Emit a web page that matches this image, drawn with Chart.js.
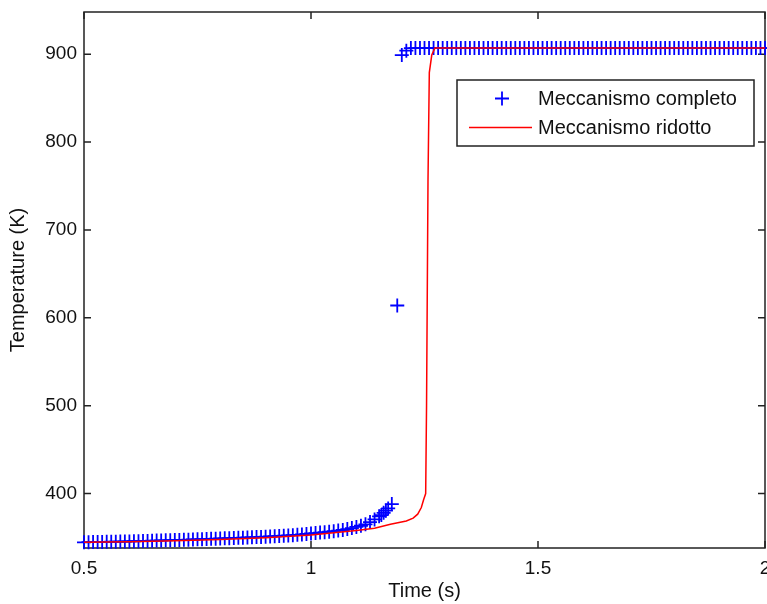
<!DOCTYPE html>
<html>
<head>
<meta charset="utf-8">
<script src="https://cdn.jsdelivr.net/npm/chart.js@4.4.0/dist/chart.umd.min.js"></script>
<style>
  html, body { margin: 0; padding: 0; background: #fff; }
</style>
</head>
<body>
<canvas id="grafico" width="767" height="604"></canvas>
<script>
// Meccanismo completo: tempi (s) e temperature (K)
const tiempoCompleto = [
  0.50, 0.51, 0.52, 0.53, 0.54, 0.55, 0.56, 0.57, 0.58, 0.59,
  0.60, 0.61, 0.62, 0.63, 0.64, 0.65, 0.66, 0.67, 0.68, 0.69,
  0.70, 0.71, 0.72, 0.73, 0.74, 0.75, 0.76, 0.77, 0.78, 0.79,
  0.80, 0.81, 0.82, 0.83, 0.84, 0.85, 0.86, 0.87, 0.88, 0.89,
  0.90, 0.91, 0.92, 0.93, 0.94, 0.95, 0.96, 0.97, 0.98, 0.99,
  1.00, 1.01, 1.02, 1.03, 1.04, 1.05, 1.06, 1.07, 1.08, 1.09, 1.10,
  1.11, 1.12, 1.13, 1.14, 1.15, 1.155, 1.16, 1.165, 1.17, 1.178,
  1.19, 1.20, 1.21,
  1.22, 1.23, 1.24, 1.25, 1.26, 1.27, 1.28, 1.29,
  1.30, 1.31, 1.32, 1.33, 1.34, 1.35, 1.36, 1.37, 1.38, 1.39,
  1.40, 1.41, 1.42, 1.43, 1.44, 1.45, 1.46, 1.47, 1.48, 1.49,
  1.50, 1.51, 1.52, 1.53, 1.54, 1.55, 1.56, 1.57, 1.58, 1.59,
  1.60, 1.61, 1.62, 1.63, 1.64, 1.65, 1.66, 1.67, 1.68, 1.69,
  1.70, 1.71, 1.72, 1.73, 1.74, 1.75, 1.76, 1.77, 1.78, 1.79,
  1.80, 1.81, 1.82, 1.83, 1.84, 1.85, 1.86, 1.87, 1.88, 1.89,
  1.90, 1.91, 1.92, 1.93, 1.94, 1.95, 1.96, 1.97, 1.98, 1.99, 2.00
];
const tempCompleto = [
  344.5, 344.6, 344.7, 344.8, 344.9, 345.0, 345.1, 345.2, 345.3, 345.4,
  345.5, 345.7, 345.8, 346.0, 346.1, 346.3, 346.4, 346.6, 346.7, 346.9,
  347.0, 347.2, 347.3, 347.5, 347.7, 347.9, 348.0, 348.2, 348.4, 348.6,
  348.8, 349.0, 349.2, 349.4, 349.6, 349.8, 350.0, 350.2, 350.4, 350.6,
  350.8, 351.1, 351.4, 351.7, 352.0, 352.3, 352.6, 353.0, 353.5, 354.0,
  354.5, 355.0, 355.5, 356.0, 356.6, 357.2, 357.8, 358.5, 359.5, 360.7, 362.0,
  363.3, 365.0, 367.5, 370.5, 374.0, 375.5, 378.0, 380.5, 383.0, 388.0,
  614, 899, 904,
  907, 907, 907, 907, 907, 907, 907, 907,
  907, 907, 907, 907, 907, 907, 907, 907, 907, 907,
  907, 907, 907, 907, 907, 907, 907, 907, 907, 907,
  907, 907, 907, 907, 907, 907, 907, 907, 907, 907,
  907, 907, 907, 907, 907, 907, 907, 907, 907, 907,
  907, 907, 907, 907, 907, 907, 907, 907, 907, 907,
  907, 907, 907, 907, 907, 907, 907, 907, 907, 907,
  907, 907, 907, 907, 907, 907, 907, 907, 907, 907, 907
];

// Meccanismo ridotto: vertici della curva rossa
const tiempoRidotto = [0.50, 0.60, 0.70, 0.80, 0.90, 1.00, 1.05, 1.10, 1.14, 1.175, 1.21, 1.225, 1.235, 1.243, 1.248, 1.2526, 1.2545, 1.2577, 1.2606, 1.266, 1.273, 2.00];
const tempRidotto   = [344.5, 345.2, 346.3, 347.8, 349.8, 352.8, 355.3, 358.0, 360.5, 365.0, 368.7, 372.0, 376.5, 384.0, 393.0, 400, 500, 755, 879, 899, 907, 907];

const etichette = ['Meccanismo completo', 'Meccanismo ridotto'];
const ticksX = [0.5, 1, 1.5, 2];
const ticksY = [400, 500, 600, 700, 800, 900];

const fuente = "'Liberation Sans', Arial, sans-serif";
const colorEje = '#222';

const aPuntos = (xs, ys) => xs.map((x, i) => ({ x: x, y: ys[i] }));

// marco, tacche interne e legenda in stile MATLAB
const marcoPlugin = {
  id: 'marco',
  beforeDatasetsDraw(chart) {
    const { ctx, chartArea: a, scales } = chart;
    ctx.save();
    ctx.strokeStyle = colorEje;
    ctx.lineWidth = 1.5;
    ctx.strokeRect(a.left, a.top, a.right - a.left, a.bottom - a.top);
    ctx.beginPath();
    ticksX.forEach(v => {
      const px = scales.x.getPixelForValue(v);
      ctx.moveTo(px, a.bottom); ctx.lineTo(px, a.bottom - 7);
      ctx.moveTo(px, a.top); ctx.lineTo(px, a.top + 7);
    });
    ticksY.forEach(v => {
      const py = scales.y.getPixelForValue(v);
      ctx.moveTo(a.left, py); ctx.lineTo(a.left + 7, py);
      ctx.moveTo(a.right, py); ctx.lineTo(a.right - 7, py);
    });
    ctx.stroke();
    ctx.restore();
  },
  afterDraw(chart) {
    const { ctx, chartArea: a } = chart;
    const x0 = a.right - 308, y0 = a.top + 68, w = 297, h = 66;
    ctx.save();
    ctx.fillStyle = '#fff';
    ctx.fillRect(x0, y0, w, h);
    ctx.strokeStyle = colorEje;
    ctx.lineWidth = 1.5;
    ctx.strokeRect(x0, y0, w, h);
    const ds = chart.data.datasets;
    // marcador +
    ctx.strokeStyle = ds[0].borderColor;
    ctx.lineWidth = 1.8;
    ctx.beginPath();
    ctx.moveTo(x0 + 38, y0 + 18.5); ctx.lineTo(x0 + 52, y0 + 18.5);
    ctx.moveTo(x0 + 45, y0 + 11.5); ctx.lineTo(x0 + 45, y0 + 25.5);
    ctx.stroke();
    // linea roja
    ctx.strokeStyle = ds[1].borderColor;
    ctx.lineWidth = 1.5;
    ctx.beginPath();
    ctx.moveTo(x0 + 12, y0 + 47.5); ctx.lineTo(x0 + 75, y0 + 47.5);
    ctx.stroke();
    ctx.fillStyle = '#111';
    ctx.font = '20px ' + fuente;
    ctx.textBaseline = 'middle';
    ctx.fillText(ds[0].label, x0 + 81, y0 + 19);
    ctx.fillText(ds[1].label, x0 + 81, y0 + 48);
    ctx.restore();
  }
};

const ctx = document.getElementById('grafico').getContext('2d');
const grafico = new Chart(ctx, {
  type: 'scatter',
  data: {
    datasets: [
      {
        label: etichette[0],
        data: aPuntos(tiempoCompleto, tempCompleto),
        showLine: false,
        pointStyle: 'cross',
        pointRadius: 7,
        pointBorderWidth: 1.8,
        borderColor: 'rgb(0,0,255)',
        backgroundColor: 'rgb(0,0,255)',
        clip: false,
        order: 1
      },
      {
        label: etichette[1],
        data: aPuntos(tiempoRidotto, tempRidotto),
        showLine: true,
        pointRadius: 0,
        borderWidth: 1.5,
        borderColor: 'rgb(255,0,0)',
        backgroundColor: 'rgb(255,0,0)',
        tension: 0,
        fill: false,
        order: 0
      }
    ]
  },
  options: {
    responsive: false,
    animation: false,
    layout: { autoPadding: false, padding: { top: 12, right: 2, left: 0, bottom: 0 } },
    plugins: {
      legend: { display: false },
      tooltip: { enabled: false }
    },
    scales: {
      x: {
        type: 'linear',
        min: 0.5,
        max: 2,
        afterBuildTicks: s => { s.ticks = ticksX.map(v => ({ value: v })); },
        afterFit: s => { s.height = 56; s.paddingLeft = 0; s.paddingRight = 0; },
        grid: { display: false, drawTicks: false },
        border: { display: false },
        ticks: {
          padding: 9,
          maxRotation: 0,
          autoSkip: false,
          color: '#111',
          font: { family: fuente, size: 19 },
          callback: v => String(v)
        },
        title: {
          display: true,
          text: 'Time (s)',
          color: '#111',
          font: { family: fuente, size: 20 },
          padding: { top: 0, bottom: 1 }
        }
      },
      y: {
        type: 'linear',
        min: 338,
        max: 948,
        afterBuildTicks: s => { s.ticks = ticksY.map(v => ({ value: v })); },
        afterFit: s => { s.width = 84; s.paddingTop = 0; s.paddingBottom = 0; },
        grid: { display: false, drawTicks: false },
        border: { display: false },
        ticks: {
          padding: 7,
          autoSkip: false,
          color: '#111',
          font: { family: fuente, size: 19 },
          callback: v => String(v)
        },
        title: {
          display: true,
          text: 'Temperature (K)',
          color: '#111',
          font: { family: fuente, size: 20 },
          padding: { top: 6, bottom: 0 }
        }
      }
    }
  },
  plugins: [marcoPlugin]
});
</script>
</body>
</html>
